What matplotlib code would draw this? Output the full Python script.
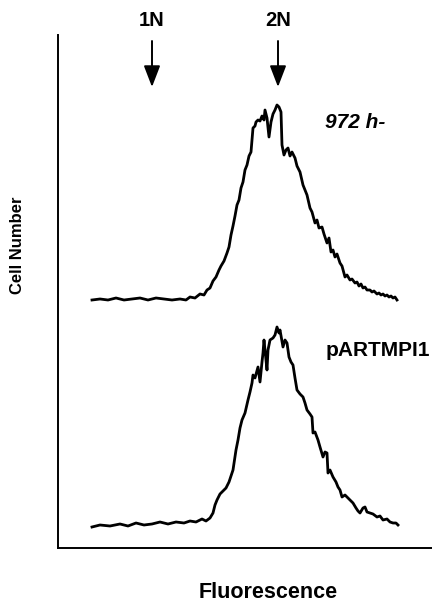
import matplotlib
matplotlib.use("Agg")
import matplotlib.pyplot as plt

# Fluorescence channel (pixel-derived units) and cell-number readings
top_x = [92, 100, 108, 116, 124, 132, 140, 148, 156, 164, 172, 180, 186, 190, 195, 200, 204, 207,
         210, 213, 216, 219, 221, 224, 227, 229, 231, 233, 235, 237, 239, 241, 243, 245, 247, 249,
         251, 253, 255, 256, 258, 260, 262, 264, 265, 267, 269, 271, 273, 275, 277, 279, 281, 282,
         284, 286, 288, 290, 292, 295, 297, 300, 303, 305, 307, 310, 312, 315, 317, 319, 322, 324,
         327, 329, 331, 333, 335, 337, 340, 342, 345, 347, 350, 352, 355, 357, 359, 361, 363, 365,
         367, 370, 372, 374, 377, 379, 381, 383, 385, 387, 389, 391, 393, 395, 397]
top_py = [300, 299, 300, 298, 300, 299, 298, 300, 298, 299, 300, 299, 300, 297, 298, 294, 295, 290,
          288, 281, 277, 270, 266, 261, 253, 247, 235, 226, 216, 205, 200, 188, 182, 170, 165, 156,
          152, 128, 126, 122, 120, 121, 116, 120, 110, 118, 137, 122, 114, 110, 105, 107, 112, 145,
          155, 150, 148, 156, 152, 158, 166, 172, 185, 190, 195, 208, 212, 223, 220, 228, 227, 234,
          243, 238, 252, 250, 257, 254, 263, 266, 277, 275, 280, 279, 283, 282, 286, 284, 288, 287,
          290, 290, 292, 291, 294, 293, 295, 294, 296, 295, 297, 296, 298, 297, 300]

bot_x = [92, 100, 110, 120, 128, 136, 144, 152, 160, 168, 176, 184, 190, 196, 202, 206, 210, 213,
         215, 217, 220, 223, 226, 229, 231, 233, 236, 238, 240, 242, 245, 248, 250, 252, 253, 255,
         258, 260, 262, 263, 264, 266, 267, 268, 270, 273, 275, 277, 279, 280, 283, 285, 287, 289,
         291, 293, 295, 297, 300, 303, 305, 307, 310, 312, 313, 315, 318, 320, 323, 325, 327, 328,
         330, 333, 336, 338, 340, 342, 345, 347, 350, 353, 356, 358, 360, 363, 365, 367, 370, 373,
         377, 380, 383, 387, 390, 393, 396, 398]
bot_py = [527, 525, 526, 524, 526, 523, 525, 524, 522, 524, 522, 523, 521, 522, 519, 521, 518, 513,
          505, 500, 494, 491, 488, 482, 476, 470, 450, 440, 428, 420, 413, 400, 392, 383, 375, 378,
          367, 382, 362, 353, 340, 360, 370, 350, 340, 338, 335, 327, 333, 330, 347, 340, 343, 357,
          362, 365, 378, 390, 394, 397, 403, 410, 414, 417, 433, 432, 440, 447, 457, 452, 453, 473,
          470, 477, 482, 487, 490, 497, 495, 497, 500, 503, 508, 511, 513, 508, 507, 512, 513, 514,
          517, 516, 520, 519, 522, 523, 523, 525]

markers_x = [152, 278]
markers_lbl = ["1N", "2N"]
curve_labels = ["972 h-", "pARTMPI1"]

W, H = 432, 604
AX_L, AX_R, AX_T, AX_B = 58, 432, 35, 548

fig = plt.figure(figsize=(W / 100, H / 100), dpi=100)
ax = fig.add_axes([AX_L / W, (H - AX_B) / H, (AX_R - AX_L) / W, (AX_B - AX_T) / H])
ax.set_xlim(AX_L, AX_R)
ax.set_ylim(AX_B, AX_T)  # inverted to match reading orientation
for s in ["top", "right"]:
    ax.spines[s].set_visible(False)
for s in ["left", "bottom"]:
    ax.spines[s].set_linewidth(1.4)
ax.set_xticks([])
ax.set_yticks([])

ax.plot(top_x, top_py, color="black", lw=2.0, solid_joinstyle="round")
ax.plot(bot_x, bot_py, color="black", lw=2.0, solid_joinstyle="round")

fam = ["Liberation Sans", "DejaVu Sans"]
for mx, ml in zip(markers_x, markers_lbl):
    ax.annotate("", xy=(mx, 87), xytext=(mx, 41), annotation_clip=False,
                arrowprops=dict(arrowstyle="-|>,head_length=1.3,head_width=0.5",
                                color="black", lw=1.4, shrinkA=0, shrinkB=0))
    ax.text(mx, 20, ml, ha="center", va="center", fontsize=14.5, fontweight="bold",
            family=fam, clip_on=False)

ax.text(325, 123, curve_labels[0], ha="left", va="center", fontsize=15,
        fontweight="bold", style="italic", family=fam)
ax.text(326, 350, curve_labels[1], ha="left", va="center", fontsize=15,
        fontweight="bold", family=fam, clip_on=False)

fig.text(18 / W, 1 - 245 / H, "Cell Number", rotation=90, ha="center", va="center",
         fontsize=12, fontweight="bold", family=fam)
fig.text(268 / W, 1 - 592 / H, "Fluorescence", ha="center", va="center",
         fontsize=15.5, fontweight="bold", family=fam)

fig.savefig("out.png", dpi=100)
